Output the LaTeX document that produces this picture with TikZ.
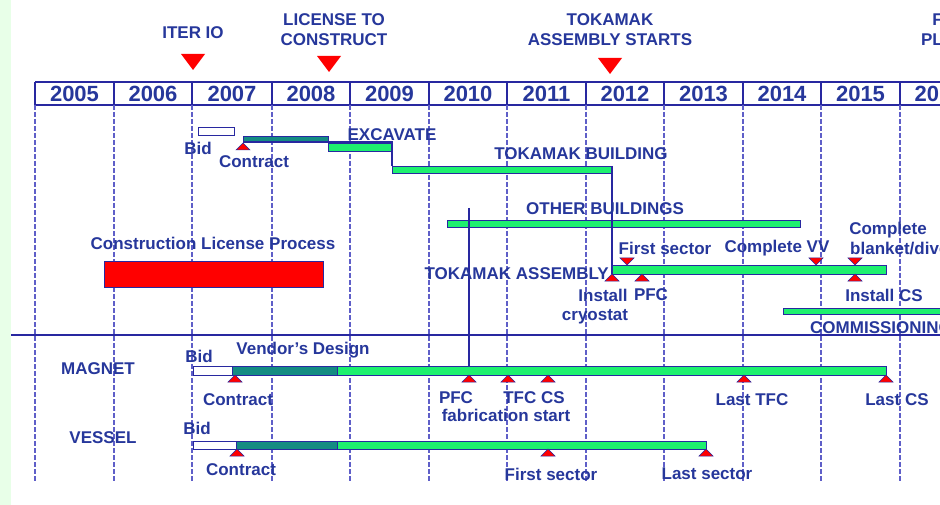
\documentclass[tikz,border=0pt]{standalone}
\usepackage{fontspec}
\setmainfont{Liberation Sans}
\definecolor{txtblue}{RGB}{38,55,155}
\definecolor{gridblue}{RGB}{95,95,200}
\definecolor{lineblue}{RGB}{40,40,160}
\definecolor{bargreen}{RGB}{30,240,110}
\definecolor{barteal}{RGB}{20,140,130}
\definecolor{paleleft}{RGB}{232,255,232}
\tikzset{
  lbl/.style={text=txtblue, font=\fontsize{17}{15}\selectfont\bfseries, inner sep=0pt, align=center},
  toplbl/.style={lbl, font=\fontsize{17}{20}\selectfont\bfseries},
  yr/.style={text=txtblue, font=\fontsize{22}{22}\selectfont\bfseries, inner sep=0pt},
  hdr/.style={draw=lineblue, line width=1.4pt},
  gridl/.style={draw=gridblue, line width=1.3pt, dash pattern=on 5pt off 2pt},
  barbox/.style={draw=lineblue, line width=0.9pt},
  conn/.style={draw=lineblue, line width=1.3pt},
  bigtri/.style={fill=red, draw=none},
  smalltri/.style={fill=red, draw=lineblue, line width=0.5pt},
}
\newcommand\gbar[5]{\path[barbox, fill=#5] (#1,#3) rectangle (#2,#4);}
\newcommand\triup[2]{\path[smalltri] (#1-7,#2+7) -- (#1,#2) -- (#1+7,#2+7) -- cycle;}
\newcommand\tridn[2]{\path[smalltri] (#1-7,#2) -- (#1,#2+7) -- (#1+7,#2) -- cycle;}
\begin{document}
\begin{tikzpicture}[x=1pt,y=-1pt]
\useasboundingbox (0,0) rectangle (940,505);
\clip (0,0) rectangle (940,505);
\fill[paleleft] (0,0) rectangle (11,505);

% header
\draw[hdr] (35,82) -- (945,82);
\draw[hdr] (35,105) -- (945,105);
\foreach \x in {35,114,192,272,350,429,507,586,664,743,821,900} {
  \draw[hdr] (\x,82) -- (\x,105);
  \draw[gridl] (\x,105) -- (\x,482);
}
\foreach \c/\yy in {74.5/2005,153/2006,232/2007,311/2008,389.5/2009,468/2010,546.5/2011,625/2012,703.5/2013,782/2014,860.5/2015,939/2016}
  \node[yr] (y\yy) at (\c,94) {\yy};

% separator
\draw[conn] (11,335) -- (945,335);

% milestones on top
\node[toplbl] (iterio) at (193,33) {ITER IO};
\path[bigtri] (181,54) -- (205,54) -- (193,70) -- cycle;
\node[toplbl] (lic) at (334,30) {LICENSE TO\\CONSTRUCT};
\path[bigtri] (317,56) -- (341,56) -- (329,72) -- cycle;
\node[toplbl] (tas) at (610,30) {TOKAMAK\\ASSEMBLY STARTS};
\path[bigtri] (598,58) -- (622,58) -- (610,74) -- cycle;
\node[toplbl] (fp) at (957,30) {FIRST\\PLASMA};

% coordinates for connectors
\coordinate (exA) at (243,142);
\coordinate (exB) at (392,142);
\coordinate (tbT) at (392,166);
\coordinate (tbE) at (612,166);
\coordinate (taS) at (612,274);
\coordinate (obV) at (469,208);
\coordinate (mgV) at (469,366);

% excavate / buildings
\gbar{198}{234}{127}{135}{white}
\gbar{243}{328}{136}{142}{barteal}
\gbar{328}{392}{143}{151}{bargreen}
\gbar{392}{612}{166}{173}{bargreen}
\gbar{447}{800}{220}{227}{bargreen}
\draw[conn] (exA) -- (exB) -- (tbT);
\draw[conn] (tbE) -- (taS);
\draw[conn] (obV) -- (mgV);
\triup{243}{143}

% license
\gbar{104}{323}{261}{287}{red}

% tokamak assembly
\gbar{612}{886}{265}{274}{bargreen}
\tridn{627}{258}\tridn{816}{258}\tridn{855}{258}
\triup{612}{274}\triup{642}{274}\triup{855}{274}
\gbar{783}{950}{308}{314}{bargreen}

% magnet
\gbar{193}{232}{366}{375}{white}
\gbar{232}{337}{366}{375}{barteal}
\gbar{337}{886}{366}{375}{bargreen}
\foreach \x in {235,469,508,548,744,886} {\triup{\x}{375}}

% vessel
\gbar{193}{236}{441}{449}{white}
\gbar{236}{337}{441}{449}{barteal}
\gbar{337}{706}{441}{449}{bargreen}
\foreach \x in {237,548,706} {\triup{\x}{449}}

% labels upper part
\node[lbl] (bid1) at (198,148) {Bid};
\node[lbl] (con1) at (254,162) {Contract};
\node[lbl] (exc) at (392,135) {EXCAVATE};
\node[lbl] (tkb) at (581,154) {TOKAMAK BUILDING};
\node[lbl] (otb) at (605,209) {OTHER BUILDINGS};
\node[lbl] (clp) at (213,243) {Construction License Process};
\node[lbl, anchor=east] (tka) at (609,274) {TOKAMAK ASSEMBLY};
\node[lbl] (fs1) at (665,248) {First sector};
\node[lbl] (cvv) at (777,248) {Complete VV};
\node[lbl] (cmp) at (888,230) {Complete};
\node[lbl, anchor=west] (bld) at (850,249) {blanket/divertor};
\node[lbl] (ins) at (603,295) {Install};
\node[lbl] (cry) at (595,317) {cryostat};
\node[lbl] (pfc1) at (651,295) {PFC};
\node[lbl] (ics) at (884,295) {Install CS};
\node[lbl, anchor=west] (com) at (810,328) {COMMISSIONING};

% labels lower part
\node[lbl] (mag) at (98,369) {MAGNET};
\node[lbl] (bid2) at (199,356) {Bid};
\node[lbl] (vd) at (303,350) {Vendor’s Design};
\node[lbl] (con2) at (238,400) {Contract};
\node[lbl] (pfc2) at (456,398) {PFC};
\node[lbl] (tfccs) at (534,398) {TFC CS};
\node[lbl] (fab) at (506,415) {fabrication start};
\node[lbl] (ltfc) at (752,400) {Last TFC};
\node[lbl] (lcs) at (897,400) {Last CS};
\node[lbl] (ves) at (103,438) {VESSEL};
\node[lbl] (bid3) at (197,428) {Bid};
\node[lbl] (con3) at (241,470) {Contract};
\node[lbl] (fs2) at (551,474) {First sector};
\node[lbl] (lsec) at (707,474) {Last sector};
\end{tikzpicture}
\end{document}
